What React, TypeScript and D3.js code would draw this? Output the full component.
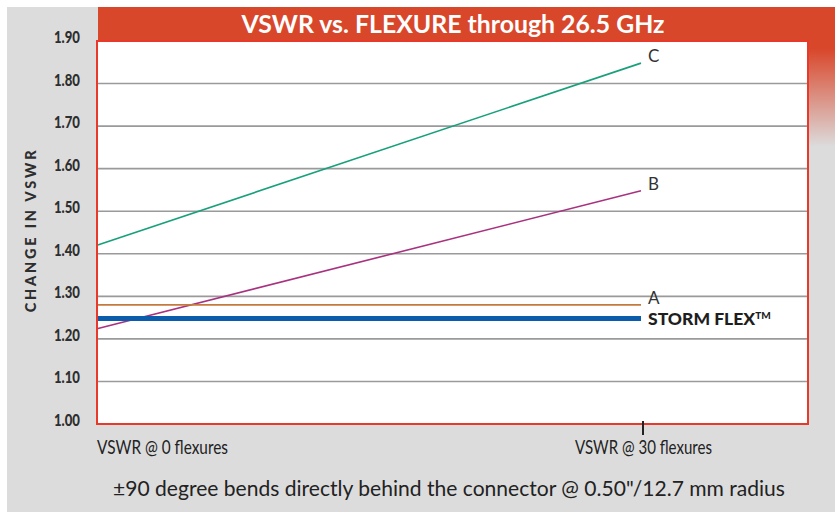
import React from "react";
import * as d3 from "d3";

// flexure counts on the x axis
const flexures = [0, 30];
const xLabels = ["VSWR @ 0 flexures", "VSWR @ 30 flexures"];

// VSWR values at 0 and 30 flexures
const seriesNames = ["C", "B", "A", "STORM FLEX"];
const seriesC = [1.42, 1.848];
const seriesB = [1.224, 1.548];
const seriesA = [1.28, 1.28];
const seriesStorm = [1.248, 1.248];

const yTicks = [1.0, 1.1, 1.2, 1.3, 1.4, 1.5, 1.6, 1.7, 1.8, 1.9];

const W = 835;
const H = 512;
const plot = { left: 97, top: 41, right: 808, bottom: 424 };

const x = d3.scaleLinear().domain([0, 30]).range([97, 641]);
const y = d3.scaleLinear().domain([1.0, 1.9]).range([plot.bottom, plot.top]);

const sans = "Lato, 'Open Sans', sans-serif";

export default function App() {
  const line = d3
    .line<number>()
    .x((_, i) => x(flexures[i]))
    .y((d) => y(d));

  const series = [
    { name: seriesNames[0], values: seriesC, color: "#17a07b", width: 1.6, bold: false },
    { name: seriesNames[1], values: seriesB, color: "#a8327f", width: 1.6, bold: false },
    { name: seriesNames[2], values: seriesA, color: "#c47a3e", width: 1.8, bold: false },
    { name: seriesNames[3], values: seriesStorm, color: "#0b5cab", width: 5, bold: true },
  ];

  return (
    <svg width={W} height={H} style={{ position: "absolute", left: 0, top: 0 }}>
      <defs>
        <linearGradient id="fade" x1="0" y1="0" x2="0" y2="1">
          <stop offset="0" stopColor="#d9472b" />
          <stop offset="0.3" stopColor="#d9472b" />
          <stop offset="1" stopColor="#dcdcdd" />
        </linearGradient>
      </defs>
      <rect x={0} y={0} width={W} height={H} fill="#fff" />
      <rect x={7} y={7} width={W - 7} height={H - 7} fill="#dcdcdd" />
      {/* title bar */}
      <rect x={plot.right} y={7} width={W - plot.right} height={140} fill="url(#fade)" />
      <rect x={98} y={7} width={plot.right - 98} height={34} fill="#d9472b" />
      <text
        x={453}
        y={33}
        textAnchor="middle"
        fill="#fff"
        fontFamily={sans}
        fontWeight="bold"
        fontSize={25}
        textLength={423}
        lengthAdjust="spacingAndGlyphs"
      >
        VSWR vs. FLEXURE through 26.5 GHz
      </text>

      {/* plot area */}
      <rect
        x={plot.left}
        y={plot.top}
        width={plot.right - plot.left}
        height={plot.bottom - plot.top}
        fill="#fff"
      />
      {yTicks.slice(1, -1).map((t) => (
        <line
          key={t}
          x1={plot.left}
          x2={plot.right}
          y1={y(t)}
          y2={y(t)}
          stroke="#9a9a9c"
          strokeWidth={1.6}
        />
      ))}
      {series.map((s) => (
        <path key={s.name} d={line(s.values) || ""} fill="none" stroke={s.color} strokeWidth={s.width} />
      ))}
      <rect
        x={plot.left}
        y={plot.top}
        width={plot.right - plot.left}
        height={plot.bottom - plot.top}
        fill="none"
        stroke="#e8392b"
        strokeWidth={2}
      />

      {/* series labels */}
      {series.map((s) =>
        s.bold ? (
          <text
            key={"l" + s.name}
            x={648}
            y={y(s.values[1]) + 7}
            fill="#1e1e1e"
            fontFamily={sans}
            fontWeight={900}
            fontSize={17.5}
          >
            {s.name}
            <tspan fontSize={10} dy={-6}>
              TM
            </tspan>
          </text>
        ) : (
          <text
            key={"l" + s.name}
            x={648}
            y={y(s.values[1]) - 1}
            fill="#333"
            fontFamily={sans}
            fontSize={17}
          >
            {s.name}
          </text>
        )
      )}

      {/* y axis */}
      {yTicks.map((t) => (
        <text
          key={"y" + t}
          x={80}
          y={y(t) + 2}
          textAnchor="end"
          fill="#2e2e2e"
          fontFamily={sans}
          fontWeight={900}
          fontSize={16}
          textLength={26}
          lengthAdjust="spacingAndGlyphs"
        >
          {t.toFixed(2)}
        </text>
      ))}
      <text
        transform={`translate(36,${230}) rotate(-90)`}
        textAnchor="middle"
        fill="#2e2e2e"
        fontFamily={sans}
        fontWeight={900}
        fontSize={14.5}
        letterSpacing={2.8}
      >
        CHANGE IN VSWR
      </text>

      {/* x axis */}
      <line x1={x(30) + 2} x2={x(30) + 2} y1={421} y2={435} stroke="#222" strokeWidth={2} />
      <text
        x={97}
        y={454}
        fill="#222"
        fontFamily={sans}
        fontSize={20}
        textLength={131}
        lengthAdjust="spacingAndGlyphs"
      >
        {xLabels[0]}
      </text>
      <text
        x={x(30) + 2 - 68}
        y={454}
        fill="#222"
        fontFamily={sans}
        fontSize={20}
        textLength={137}
        lengthAdjust="spacingAndGlyphs"
      >
        {xLabels[1]}
      </text>

      <text
        x={449}
        y={496}
        textAnchor="middle"
        fill="#222"
        fontFamily={sans}
        fontSize={20.5}
        textLength={672}
        lengthAdjust="spacingAndGlyphs"
      >
        ±90 degree bends directly behind the connector @ 0.50"/12.7 mm radius
      </text>
    </svg>
  );
}
